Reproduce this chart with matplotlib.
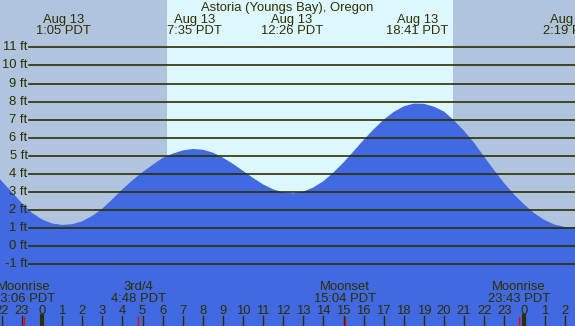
import matplotlib
matplotlib.use("Agg")
import matplotlib.pyplot as plt
import matplotlib.transforms as mtransforms

# ---------------- data ----------------
title = "Astoria (Youngs Bay), Oregon"

# tide height (ft), hours relative to 00:00 Aug 13
tide_hours = [-2.5, -2.0, -1.5, -1.0, -0.5, 0.0, 0.5, 1.0, 1.5, 2.0, 2.5, 3.0,
              3.5, 4.0, 4.5, 5.0, 5.5, 6.0, 6.5, 7.0, 7.5, 8.0, 8.5, 9.0, 9.5,
              10.0, 10.5, 11.0, 11.5, 12.0, 12.5, 13.0, 13.5, 14.0, 14.5, 15.0,
              15.5, 16.0, 16.5, 17.0, 17.5, 18.0, 18.5, 19.0, 19.5, 20.0, 20.5,
              21.0, 21.5, 22.0, 22.5, 23.0, 23.5, 24.0, 24.5, 25.0, 25.5, 26.0,
              26.5, 27.0]
tide_ft = [4.2, 3.6, 3.0, 2.38, 1.85, 1.48, 1.26, 1.18, 1.22, 1.38, 1.68, 2.08,
           2.6, 3.15, 3.65, 4.1, 4.5, 4.88, 5.12, 5.3, 5.38, 5.34, 5.18, 4.9, 4.56,
           4.17, 3.78, 3.42, 3.15, 2.98, 2.93, 3.02, 3.25, 3.6, 4.08, 4.63,
           5.25, 5.88, 6.47, 7.0, 7.43, 7.74, 7.89, 7.88, 7.72, 7.45, 6.96,
           6.38, 5.72, 4.95, 4.2, 3.48, 2.85, 2.3, 1.82, 1.45, 1.2, 1.07,
           1.05, 1.1]

# high / low tide labels
extreme_hours = [1.083, 7.583, 12.433, 18.683, 26.317]
extreme_dates = ["Aug 13", "Aug 13", "Aug 13", "Aug 13", "Aug 14"]
extreme_times = ["1:05 PDT", "7:35 PDT", "12:26 PDT", "18:41 PDT", "2:19 PDT"]

# sun
sunrise_hour = 6.22
sunset_hour = 20.45

# moon events
moon_hours = [-0.9, 4.8, 15.067, 23.717]
moon_names = ["Moonrise", "3rd/4", "Moonset", "Moonrise"]
moon_times = ["23:06 PDT", "4:48 PDT", "15:04 PDT", "23:43 PDT"]

# axes
ft_levels = list(range(-1, 12))
hour_ticks = list(range(-2, 27))
hour_labels = [str(h % 24) for h in hour_ticks]

# ---------------- style ----------------
W, H = 575, 326
X0, X1 = -2.0896, 26.517
Y0, Y1 = -4.41, 13.62
NIGHT = "#b0c4de"
DAY = "#ddf7fe"
WATER = "#4169e1"
INK = "#2e2e00"
FONT = "Liberation Sans"
FS = 9.4

fig = plt.figure(figsize=(W / 100, H / 100), dpi=100)
ax = fig.add_axes([0, 0, 1, 1])
ax.set_xlim(X0, X1)
ax.set_ylim(Y0, Y1)
ax.axis("off")

# background: night / day
ax.axvspan(X0, sunrise_hour, color=NIGHT, lw=0, zorder=0)
ax.axvspan(sunrise_hour, sunset_hour, color=DAY, lw=0, zorder=0)
ax.axvspan(sunset_hour, X1, color=NIGHT, lw=0, zorder=0)

# water
ax.fill_between(tide_hours, tide_ft, Y0 - 1, color=WATER, lw=0, zorder=1)

# height grid lines and labels
trans_ay = mtransforms.blended_transform_factory(ax.transAxes, ax.transData)
for lv in ft_levels:
    ax.axhline(lv, xmin=29 / W, xmax=1, color=INK, lw=1.2, zorder=2)
    ax.text(27.5 / W, lv, f"{lv} ft", transform=trans_ay, ha="right", va="center",
            fontsize=FS, color=INK, family=FONT, zorder=3)

# title
ax.text(0.5, 1 - 7.5 / H, title, transform=ax.transAxes, ha="center", va="center",
        fontsize=FS, color=INK, family=FONT, zorder=3)

# tide extreme labels
trans_xa = mtransforms.blended_transform_factory(ax.transData, ax.transAxes)
for hx, d, t in zip(extreme_hours, extreme_dates, extreme_times):
    ax.text(hx, 1 - 19.5 / H, d, transform=trans_xa, ha="center", va="center",
            fontsize=FS, color=INK, family=FONT, zorder=3)
    ax.text(hx, 1 - 31.5 / H, t, transform=trans_xa, ha="center", va="center",
            fontsize=FS, color=INK, family=FONT, zorder=3)

# moon labels and red ticks
for hx, n, t in zip(moon_hours, moon_names, moon_times):
    ax.text(hx, 1 - 287.5 / H, n, transform=trans_xa, ha="center", va="center",
            fontsize=FS, color=INK, family=FONT, zorder=3)
    ax.text(hx, 1 - 299.5 / H, t, transform=trans_xa, ha="center", va="center",
            fontsize=FS, color=INK, family=FONT, zorder=3)
    ax.axvline(hx, ymin=0, ymax=9 / H, color="red", lw=1.0, zorder=2)

# hour ticks and labels
for hx, lab in zip(hour_ticks, hour_labels):
    lw = 3.0 if hx % 24 == 0 else 1.0
    ax.axvline(hx, ymin=0, ymax=10 / H, color=INK, lw=lw, zorder=2)
    ax.text(hx, 1 - 311.5 / H, lab, transform=trans_xa, ha="center", va="center",
            fontsize=FS, color=INK, family=FONT, zorder=3)

fig.savefig("out.png", dpi=100)
